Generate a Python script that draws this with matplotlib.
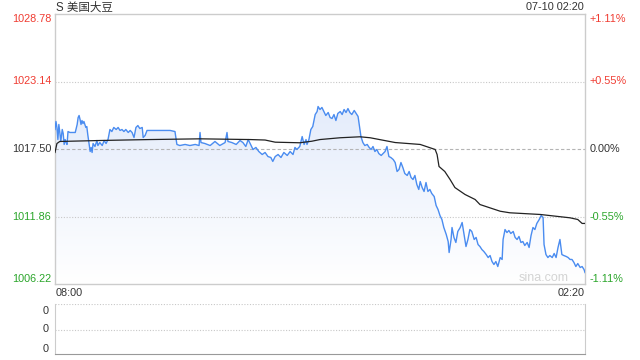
import numpy as np
import matplotlib
matplotlib.use("Agg")
import matplotlib.pyplot as plt

plt.rcParams['font.family'] = ['Liberation Sans', 'Noto Sans CJK SC', 'DejaVu Sans']

# minutes after 08:00 and the price at that time
price_t = [0, 2, 4, 6, 8, 10, 12, 15, 17, 19, 21, 23, 25, 27, 31, 42, 46, 48, 50, 52,
           54, 56, 58, 60, 64, 66, 68, 71, 73, 75, 77, 79, 83, 87, 89, 93, 98, 102, 106, 110,
           114, 118, 122, 127, 131, 135, 139, 143, 147, 152, 156, 160, 164, 168, 172, 176, 181, 183, 187, 191,
           208, 228, 239, 249, 253, 259, 270, 280, 291, 299, 301, 303, 311, 322, 332, 342, 353, 357, 359, 367,
           376, 384, 390, 396, 401, 405, 411, 417, 423, 430, 436, 442, 448, 452, 457, 463, 469, 475, 482, 488,
           494, 498, 502, 508, 513, 517, 521, 523, 527, 531, 535, 540, 544, 546, 550, 554, 558, 562, 567, 571,
           575, 579, 583, 587, 592, 596, 600, 604, 608, 612, 616, 621, 625, 629, 633, 635, 639, 643, 648, 652,
           656, 660, 664, 668, 672, 677, 681, 685, 689, 693, 697, 702, 706, 710, 714, 718, 722, 726, 731, 735,
           739, 743, 747, 751, 755, 758, 762, 766, 770, 774, 778, 782, 787, 791, 795, 799, 803, 807, 812, 816,
           818, 822, 824, 828, 832, 836, 841, 845, 849, 853, 857, 861, 865, 870, 874, 878, 882, 886, 890, 895,
           899, 903, 907, 911, 915, 919, 924, 928, 930, 934, 938, 942, 946, 951, 955, 959, 963, 967, 971, 975,
           980, 984, 988, 992, 996, 1000, 1005, 1009, 1013, 1015, 1019, 1023, 1027, 1032, 1036, 1040, 1044, 1048, 1052, 1056,
           1061, 1065, 1069, 1073, 1077, 1081, 1085, 1090, 1094, 1098, 1100]
price = [1019.13, 1019.80, 1019.30, 1018.29, 1019.55, 1018.88, 1018.13, 1019.13, 1018.80, 1017.88,
         1018.29, 1018.04, 1017.88, 1018.96, 1018.88, 1018.88, 1019.55, 1020.13, 1020.30, 1019.97,
         1019.55, 1019.88, 1019.63, 1019.80, 1019.30, 1019.38, 1018.71, 1017.88, 1017.29, 1017.63,
         1017.21, 1017.96, 1017.71, 1018.21, 1017.79, 1018.04, 1017.79, 1018.21, 1017.96, 1018.29,
         1019.13, 1018.96, 1019.30, 1019.13, 1019.30, 1019.05, 1019.13, 1018.96, 1019.13, 1018.88,
         1019.05, 1018.88, 1018.46, 1019.30, 1019.46, 1019.21, 1019.30, 1018.46, 1018.63, 1019.05,
         1019.05, 1019.05, 1019.05, 1018.96, 1017.88, 1017.79, 1017.88, 1017.79, 1017.88, 1017.79,
         1018.88, 1018.04, 1017.96, 1017.79, 1018.13, 1017.79, 1018.04, 1018.88, 1018.13, 1018.04,
         1017.88, 1018.21, 1018.04, 1017.71, 1018.29, 1017.96, 1017.46, 1017.63, 1017.29, 1017.04,
         1017.21, 1016.87, 1016.79, 1016.46, 1016.87, 1017.04, 1016.79, 1017.21, 1016.96, 1017.29,
         1017.04, 1017.63, 1017.46, 1017.71, 1018.54, 1017.88, 1018.29, 1017.88, 1018.29, 1019.13,
         1019.38, 1020.38, 1020.63, 1021.05, 1020.80, 1020.97, 1020.63, 1020.30, 1020.55, 1020.13,
         1020.05, 1020.38, 1019.88, 1020.47, 1020.63, 1020.38, 1020.80, 1020.55, 1020.88, 1020.55,
         1020.38, 1020.72, 1020.47, 1020.22, 1019.13, 1018.54, 1018.04, 1017.79, 1017.88, 1017.63,
         1017.46, 1017.71, 1017.29, 1017.46, 1017.12, 1016.96, 1017.12, 1017.29, 1017.71, 1016.87,
         1016.79, 1016.62, 1016.37, 1015.62, 1015.79, 1016.37, 1015.95, 1015.45, 1015.29, 1015.62,
         1015.12, 1014.95, 1015.29, 1014.53, 1014.12, 1014.78, 1014.28, 1013.95, 1014.70, 1013.95,
         1014.12, 1013.78, 1013.53, 1012.78, 1012.44, 1011.94, 1011.61, 1010.94, 1010.36, 1009.77,
         1008.85, 1009.94, 1010.94, 1010.11, 1009.69, 1010.61, 1010.94, 1011.36, 1010.36, 1009.35,
         1009.94, 1010.77, 1010.61, 1009.94, 1010.11, 1009.52, 1009.35, 1009.10, 1008.94, 1008.68,
         1008.43, 1008.60, 1008.10, 1007.85, 1008.10, 1007.68, 1008.43, 1008.27, 1009.94, 1010.77,
         1010.52, 1010.69, 1010.44, 1010.61, 1010.11, 1009.94, 1010.19, 1009.69, 1009.77, 1009.44,
         1009.69, 1009.27, 1010.27, 1010.94, 1010.77, 1011.28, 1011.61, 1011.94, 1011.78, 1009.52,
         1008.68, 1008.43, 1008.60, 1008.43, 1008.77, 1008.43, 1009.27, 1009.94, 1008.68, 1008.60,
         1008.52, 1008.43, 1008.27, 1008.27, 1008.02, 1007.68, 1007.93, 1007.60, 1007.68, 1007.43,
         1007.18]

# average price line
avg_t = [0, 4, 10, 31, 93, 197, 301, 405, 436, 457, 508, 533, 550, 592, 633, 654, 706, 758,
         789, 793, 797, 809, 820, 830, 851, 872, 882, 924, 944, 1007, 1069, 1085, 1094, 1100]
avg = [1017.21, 1017.96, 1018.13, 1018.15, 1018.21, 1018.29, 1018.35, 1018.29, 1018.25, 1018.07,
       1018.02, 1018.15, 1018.29, 1018.44, 1018.52, 1018.44, 1018.04, 1017.88, 1017.46, 1017.04,
       1016.04, 1015.62, 1014.95, 1014.28, 1013.70, 1013.28, 1012.86, 1012.30, 1012.17, 1012.03,
       1011.75, 1011.61, 1011.28, 1011.28]

prev_close = 1017.50
y_ticks = [1006.22, 1011.86, 1017.50, 1023.14, 1028.78]
pct_labels = ['-1.11%', '-0.55%', '0.00%', '+0.55%', '+1.11%']
RED = '#f03c32'
GREEN = '#2aa52a'
DARK = '#333333'
BORDER = '#cccccc'
FS = 7.8

fig = plt.figure(figsize=(6.4, 3.6), dpi=100)
ax = fig.add_axes([55 / 640, 76 / 360, 530 / 640, 270 / 360])
ax.set_xlim(0, 1100)
ax.set_ylim(y_ticks[0], y_ticks[-1])

# gradient fill under the price line
grad = np.linspace(0, 1, 256).reshape(-1, 1)
cmap = matplotlib.colors.LinearSegmentedColormap.from_list('g', ['#ffffff', '#e4ecfb'])
im = ax.imshow(grad, aspect='auto', cmap=cmap, origin='lower',
               extent=[0, 1100, y_ticks[0], 1021.2], zorder=1)
poly = ax.fill_between(price_t, price, y_ticks[0], color='none', lw=0)
im.set_clip_path(poly.get_paths()[0], transform=ax.transData)

ax.plot(price_t, price, color='#4a8cf0', lw=1.0, zorder=3)
ax.plot(avg_t, avg, color='#222222', lw=0.9, zorder=4)

for v in [y_ticks[1], y_ticks[3]]:
    ax.axhline(v, color='#c8c8c8', lw=0.8, ls=(0, (1, 1.5)), zorder=2)
ax.axhline(prev_close, color='#b4b4b4', lw=0.8, ls=(0, (3, 2)), zorder=2)

ax.set_xticks([])
ax.set_yticks([])
for s in ax.spines.values():
    s.set_color(BORDER)
    s.set_linewidth(1)

colors = [GREEN, GREEN, DARK, RED, RED]
vas = ['bottom', 'center', 'center', 'center', 'top']
tr = ax.get_yaxis_transform()
for v, pl, c, va in zip(y_ticks, pct_labels, colors, vas):
    ax.text(-0.007, v, f'{v:.2f}', transform=tr, ha='right', va=va, color=c, fontsize=FS)
    ax.text(1.009, v, pl, transform=tr, ha='left', va=va, color=c, fontsize=FS)

fig.text(56 / 640, 1 - 8 / 360, 'S 美国大豆', ha='left', va='center',
         fontsize=8.3, color=DARK)
fig.text(584 / 640, 1 - 7.5 / 360, '07-10 02:20', ha='right', va='center',
         fontsize=FS, color=DARK)
ax.text(0.002, -0.033, '08:00', transform=ax.transAxes, ha='left', va='center',
        fontsize=FS, color=DARK)
ax.text(1, -0.033, '02:20', transform=ax.transAxes, ha='right', va='center',
        fontsize=FS, color=DARK)
ax.text(0.97, 0.022, 'sina.com', transform=ax.transAxes, ha='right', va='center',
        fontsize=9, color='#d4d4d4')

# lower volume panel
ax2 = fig.add_axes([55 / 640, 6 / 360, 530 / 640, 50 / 360])
ax2.set_xlim(0, 1100)
ax2.set_ylim(0, 1)
ax2.set_xticks([])
ax2.set_yticks([])
for v in [1.0, 0.48]:
    ax2.axhline(v, color='#c8c8c8', lw=0.8, ls=(0, (1, 1.5)))
for k in ['left', 'right']:
    ax2.spines[k].set_color(BORDER)
ax2.spines['top'].set_visible(False)
ax2.spines['bottom'].set_color('#999999')
for yv in [0.87, 0.5, 0.11]:
    ax2.text(-0.012, yv, '0', transform=ax2.transAxes, ha='right', va='center',
             fontsize=FS, color=DARK)

fig.savefig('out.png', dpi=100)
